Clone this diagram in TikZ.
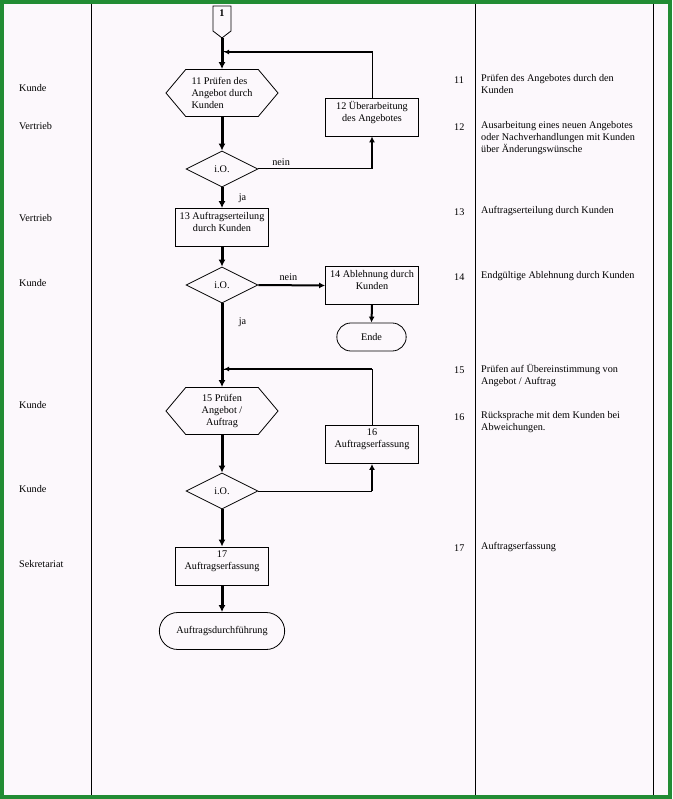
\documentclass[tikz,border=0pt]{standalone}
\usepackage{fontspec}
\setmainfont{Liberation Serif}
\usetikzlibrary{shapes.geometric,shapes.misc,shapes.symbols,arrows.meta}

\definecolor{rahmen}{RGB}{34,140,52}
\definecolor{papier}{RGB}{252,248,252}

\tikzset{
  procbox/.style={draw, line width=.8pt, minimum width=93pt, minimum height=38pt, inner sep=1pt, align=center},
  hexbox/.style={draw, line width=.8pt, signal, signal to=east and west, signal pointer angle=100,
    minimum width=112pt, minimum height=47pt, inner sep=1pt},
  testbox/.style={draw, line width=.8pt, diamond, aspect=2, minimum width=72pt, minimum height=36pt, inner sep=0pt},
  endbox/.style={draw, line width=.8pt, rounded rectangle, minimum height=28pt},
  mainarrow/.style={line width=3pt, -{Latex[length=7pt,width=7pt]}},
  sidearrow/.style={line width=2pt, -{Latex[length=6pt,width=6pt]}},
  backarrow/.style={line width=2pt, -{Latex[length=5pt,width=5pt]}},
  thinline/.style={line width=1pt},
  role/.style={anchor=west, inner sep=0pt},
}

\begin{document}
\begin{tikzpicture}[x=1pt, y=-1pt, font=\fontsize{10.2pt}{12pt}\selectfont]
  \useasboundingbox (0,0) rectangle (672,799);
  \fill[papier] (0,0) rectangle (672,799);
  \draw[rahmen, line width=4pt] (2,2) rectangle (670,797);
  \foreach \x in {91,475,653}
    \draw[line width=1pt] (\x,4) -- (\x,795);

  % Spalte links: Stellen
  \foreach \y/\wer in {88/Kunde,126/Vertrieb,218/Vertrieb,283/Kunde,405/Kunde,489/Kunde,564/Sekretariat}
    \node[role] (role\y) at (19,\y) {\wer};

  % Spalte rechts: Beschreibung
  \foreach \n/\y/\txt in {11/80/{Prüfen des Angebotes durch den\\Kunden},
      12/127/{Ausarbeitung eines neuen Angebotes\\oder Nachverhandlungen mit Kunden\\über Änderungswünsche},
      13/212/{Auftragserteilung durch Kunden},
      14/277/{Endgültige Ablehnung durch Kunden},
      15/370/{Prüfen auf Übereinstimmung von\\Angebot / Auftrag},
      16/417/{Rücksprache mit dem Kunden bei\\Abweichungen.},
      17/548/{Auftragserfassung}}
  {
    \node[role] (nr\n) at (454,\y) {\n};
    \node[anchor=north west, inner sep=0pt, align=left] (desc\n) at (481,\y-6) {\txt};
  }

  % Ablauf
  \node[draw, line width=.8pt, signal, signal to=south, signal pointer angle=105,
    minimum width=18pt, minimum height=27pt, inner sep=0pt, text depth=10pt] (s1) at (222,18.5) {\textbf{1}};
  \node[hexbox, align=left] (p11) at (222,93) {11 Prüfen des\\Angebot durch\\Kunden};
  \node[procbox] (b12) at (372,117) {12 Überarbeitung\\des Angebotes\\~};
  \node[testbox] (d1) at (222,169) {i.O.};
  \node[procbox] (b13) at (222,227.5) {13 Auftragserteilung\\durch Kunden\\~};
  \node[testbox] (d2) at (222,285) {i.O.};
  \node[procbox] (b14) at (372,285.5) {14 Ablehnung durch\\Kunden\\~};
  \node[endbox, minimum width=76pt] (ende) at (371.5,337) {Ende};
  \node[hexbox, align=center] (p15) at (222,411) {15 Prüfen\\Angebot /\\Auftrag};
  \node[procbox] (b16) at (372,444.5) {16\\Auftragserfassung\\~};
  \node[testbox] (d3) at (222,491) {i.O.};
  \node[procbox] (b17) at (222,566) {17\\Auftragserfassung\\~};
  \node[endbox, minimum width=132pt, minimum height=37pt] (fin) at (222,631) {Auftragsdurchführung};

  \coordinate (j11) at (224,52);
  \coordinate (j15) at (224,369);
  \coordinate (c12) at (372,169);
  \coordinate (c16) at (372,491);

  \draw[mainarrow] (s1.south) -- (p11.north);
  \draw[thinline] (b12.north) |- (j11);
  \draw[backarrow] (372,52) -- (j11);
  \draw[mainarrow] (p11.south) -- (d1.north);
  \draw[thinline] (d1.east) -- node[above, pos=.2] {nein} (c12);
  \draw[sidearrow] (c12) -- (b12.south);
  \draw[mainarrow] (d1.south) -- node[right=12pt] {ja} (b13.north);
  \draw[mainarrow] (b13.south) -- (d2.north);
  \draw[sidearrow] (d2.east) -- node[above, pos=.45] {nein} (b14.west);
  \draw[sidearrow] (b14.south) -- (ende.north);
  \draw[mainarrow] (d2.south) -- node[right=12pt, pos=.22] {ja} (p15.north);
  \draw[thinline] (b16.north) |- (j15);
  \draw[backarrow] (372,369) -- (j15);
  \draw[mainarrow] (p15.south) -- (d3.north);
  \draw[thinline] (d3.east) -- (c16);
  \draw[sidearrow] (c16) -- (b16.south);
  \draw[mainarrow] (d3.south) -- (b17.north);
  \draw[mainarrow] (b17.south) -- (fin.north);
\end{tikzpicture}
\end{document}
